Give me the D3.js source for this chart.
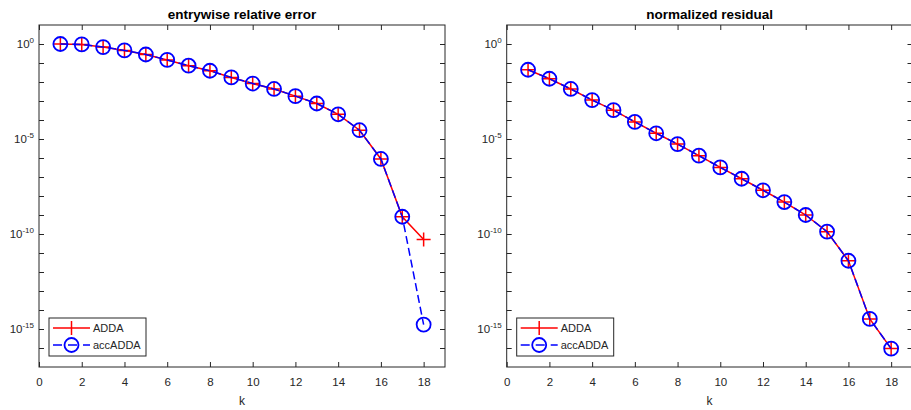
<html>
<head>
    <title>ADDA vs accADDA</title>
    <script src="https://cdn.jsdelivr.net/npm/d3@7"></script>
    <style>
        body { margin: 0; background: #fff; }
        svg { font-family: "Liberation Sans", Arial, sans-serif; overflow: hidden; }
    </style>
</head>
<body>
<script>
    var width = 911
    var height = 410

    // iteration index
    var kValues = [1, 2, 3, 4, 5, 6, 7, 8, 9, 10, 11, 12, 13, 14, 15, 16, 17, 18]

    // left panel: entrywise relative error
    var errADDA = [1.0, 0.95, 0.69, 0.46, 0.28, 0.145, 0.072, 0.039, 0.0174, 0.0083, 0.0043, 0.0018,
        7.4e-4, 2.0e-4, 2.9e-5, 8.9e-7, 8.1e-10, 5.1e-11]
    var errAccADDA = [1.0, 0.95, 0.69, 0.46, 0.28, 0.145, 0.072, 0.039, 0.0174, 0.0083, 0.0043, 0.0018,
        7.4e-4, 2.0e-4, 2.9e-5, 8.9e-7, 8.1e-10, 1.7e-15]

    // right panel: normalized residual
    var resADDA = [0.044, 0.0148, 0.0043, 1.12e-3, 3.3e-4, 7.9e-5, 2.0e-5, 5.4e-6, 1.32e-6, 3.2e-7,
        8.1e-8, 2.0e-8, 4.8e-9, 1.0e-9, 1.32e-10, 3.9e-12, 3.4e-15, 9.3e-17]
    var resAccADDA = [0.044, 0.0148, 0.0043, 1.12e-3, 3.3e-4, 7.9e-5, 2.0e-5, 5.4e-6, 1.32e-6, 3.2e-7,
        8.1e-8, 2.0e-8, 4.8e-9, 1.0e-9, 1.32e-10, 3.9e-12, 3.4e-15, 9.3e-17]

    var xTicks = [0, 2, 4, 6, 8, 10, 12, 14, 16, 18]
    var yLabelExps = [0, -5, -10, -15]
    var seriesNames = ["ADDA", "accADDA"]

    var axisColor = "#262626"

    var svg = d3.select("body")
        .append("svg")
        .attr("width", width)
        .attr("height", height)

    function drawPanel(left, right, title, dataA, dataB) {
        var top = 25
        var bottom = 367
        var x = d3.scaleLinear().domain([0, 19]).range([left, right])
        var y = d3.scaleLog().domain([1e-17, 1e1]).range([bottom, top])
        var g = svg.append("g")

        // box
        g.append("rect")
            .attr("x", left).attr("y", top)
            .attr("width", right - left).attr("height", bottom - top)
            .attr("fill", "none")
            .attr("stroke", axisColor)
            .attr("stroke-width", 1)

        // x axis (ticks inward) + mirrored ticks on top
        var xAxis = g.append("g")
            .attr("transform", "translate(0," + bottom + ")")
            .call(d3.axisBottom(x).tickValues(xTicks).tickSizeInner(-5).tickSizeOuter(0).tickPadding(11))
        var xTop = g.append("g")
            .attr("transform", "translate(0," + top + ")")
            .call(d3.axisTop(x).tickValues(xTicks).tickSizeInner(-5).tickSizeOuter(0).tickFormat(""))

        var decades = d3.range(-16, 1).map(function (e) { return Math.pow(10, e) })
        var yLeft = g.append("g")
            .attr("transform", "translate(" + left + ",0)")
            .call(d3.axisLeft(y).tickValues(decades).tickSizeInner(-5).tickSizeOuter(0).tickFormat(""))
        var yRight = g.append("g")
            .attr("transform", "translate(" + right + ",0)")
            .call(d3.axisRight(y).tickValues(decades).tickSizeInner(-5).tickSizeOuter(0).tickFormat(""))

        ;[xAxis, xTop, yLeft, yRight].forEach(function (a) {
            a.select(".domain").remove()
            a.selectAll(".tick line").attr("stroke", axisColor).attr("stroke-width", 1)
        })
        xAxis.selectAll(".tick text")
            .attr("font-size", "11.5px")
            .attr("fill", axisColor)
            .attr("font-family", "Liberation Sans, Arial, sans-serif")

        // y labels as 10^e
        yLabelExps.forEach(function (e) {
            var t = g.append("text")
                .attr("x", left - 5)
                .attr("y", y(Math.pow(10, e)) + 4)
                .attr("text-anchor", "end")
                .attr("font-size", "11.5px")
                .attr("fill", axisColor)
            t.append("tspan").text("10")
            t.append("tspan")
                .attr("font-size", "8px")
                .attr("dy", -5)
                .text(e)
        })

        g.append("text")
            .attr("x", (left + right) / 2)
            .attr("y", 19)
            .attr("text-anchor", "middle")
            .attr("font-size", "13.5px")
            .attr("font-weight", "bold")
            .attr("fill", "#000")
            .text(title)

        g.append("text")
            .attr("x", (left + right) / 2)
            .attr("y", 405)
            .attr("text-anchor", "middle")
            .attr("font-size", "12px")
            .attr("fill", axisColor)
            .text("k")

        var line = d3.line()
            .x(function (d, i) { return x(kValues[i]) })
            .y(function (d) { return y(d) })

        var plot = g.append("g")
        // ADDA: red solid with plus markers
        plot.append("path")
            .attr("d", line(dataA))
            .attr("fill", "none")
            .attr("stroke", "red")
            .attr("stroke-width", 1.5)
        plot.selectAll(".plus")
            .data(dataA)
            .enter()
            .append("path")
            .attr("d", function (d, i) {
                var cx = x(kValues[i]), cy = y(d)
                return "M" + (cx - 7) + "," + cy + "H" + (cx + 7) + "M" + cx + "," + (cy - 7) + "V" + (cy + 7)
            })
            .attr("stroke", "red")
            .attr("stroke-width", 1.5)

        // accADDA: blue dashed with circles
        plot.append("path")
            .attr("d", line(dataB))
            .attr("fill", "none")
            .attr("stroke", "blue")
            .attr("stroke-width", 1.5)
            .attr("stroke-dasharray", "8,4")
        plot.selectAll(".circ")
            .data(dataB)
            .enter()
            .append("circle")
            .attr("cx", function (d, i) { return x(kValues[i]) })
            .attr("cy", function (d) { return y(d) })
            .attr("r", 7)
            .attr("fill", "none")
            .attr("stroke", "blue")
            .attr("stroke-width", 1.8)

        // legend
        var lx = left + 10
        var legend = g.append("g")
        legend.append("rect")
            .attr("x", lx).attr("y", 318)
            .attr("width", 97).attr("height", 38)
            .attr("fill", "#fff")
            .attr("stroke", axisColor)
            .attr("stroke-width", 1)
        var rows = [328, 345]
        // ADDA entry
        legend.append("line")
            .attr("x1", lx + 4).attr("x2", lx + 41)
            .attr("y1", rows[0]).attr("y2", rows[0])
            .attr("stroke", "red").attr("stroke-width", 1.5)
        legend.append("path")
            .attr("d", "M" + (lx + 22.5) + "," + (rows[0] - 7) + "V" + (rows[0] + 7))
            .attr("stroke", "red").attr("stroke-width", 1.5)
        // accADDA entry
        legend.append("line")
            .attr("x1", lx + 4).attr("x2", lx + 41)
            .attr("y1", rows[1]).attr("y2", rows[1])
            .attr("stroke", "blue").attr("stroke-width", 1.5)
            .attr("stroke-dasharray", "9,6")
        legend.append("circle")
            .attr("cx", lx + 22.5).attr("cy", rows[1]).attr("r", 7)
            .attr("fill", "none").attr("stroke", "blue").attr("stroke-width", 1.8)
        seriesNames.forEach(function (name, i) {
            legend.append("text")
                .attr("x", lx + 44)
                .attr("y", rows[i] + 4)
                .attr("font-size", "11px")
                .attr("fill", axisColor)
                .text(name)
        })
    }

    drawPanel(39, 445, "entrywise relative error", errADDA, errAccADDA)
    drawPanel(506.7, 912.5, "normalized residual", resADDA, resAccADDA)
</script>
</body>
</html>
